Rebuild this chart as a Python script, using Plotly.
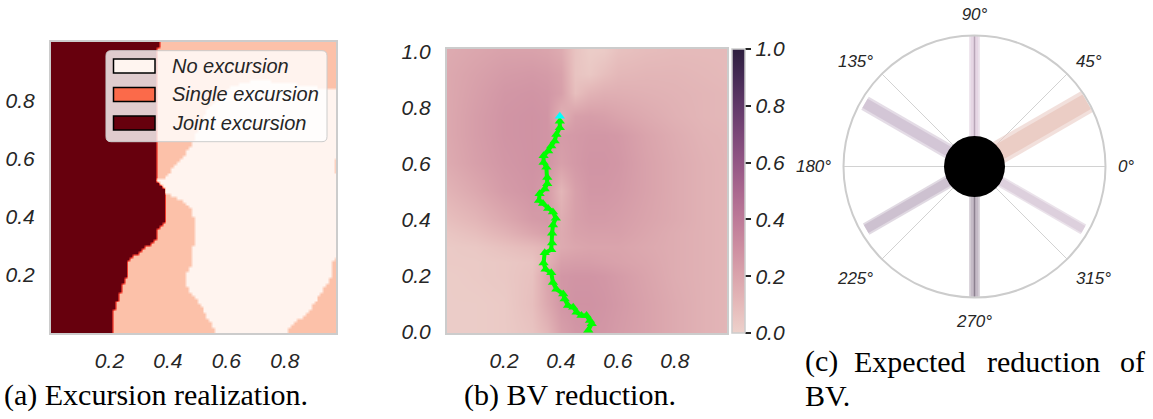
import numpy as np
import plotly.graph_objects as go

W, H = 1153, 419

# ---------------- Panel (a): excursion realization (boundaries) ----------
dark_y = [0.0, 0.05, 0.09, 0.13, 0.17, 0.20, 0.245, 0.27, 0.285, 0.30, 0.32, 0.36, 0.38, 0.50, 0.52, 0.97, 1.0]
dark_x = [0.206, 0.206, 0.217, 0.232, 0.245, 0.257, 0.262, 0.29, 0.31, 0.33, 0.355, 0.365, 0.385, 0.385, 0.362, 0.362, 0.372]

white_x = [0.485, 0.50, 0.53, 0.57, 0.62, 0.70, 0.80, 0.88, 0.94, 1.00, 1.00, 0.965, 0.965, 1.00,
           1.00, 0.955, 0.955, 0.94, 0.915, 0.875, 0.82, 0.80, 0.56, 0.554, 0.526, 0.497, 0.468,
           0.457, 0.474, 0.485, 0.491, 0.48, 0.451, 0.405, 0.36, 0.36, 0.388, 0.416, 0.451]
white_y = [0.655, 0.70, 0.76, 0.81, 0.85, 0.87, 0.86, 0.85, 0.84, 0.84, 0.60, 0.595, 0.55, 0.545,
           0.265, 0.25, 0.19, 0.165, 0.125, 0.07, 0.025, -0.01, -0.01, 0.022, 0.068, 0.113, 0.148,
           0.193, 0.228, 0.297, 0.378, 0.423, 0.457, 0.478, 0.49, 0.53, 0.526, 0.572, 0.606]

legend_labels = ["No excursion", "Single excursion", "Joint excursion"]
legend_colors = ["#fff5f0", "#fb6a4a", "#67000d"]

# ---------------- Panel (b): BV reduction field (grid) -------------------------------------
grid_x = [0.0, 0.1, 0.2, 0.3, 0.35, 0.4, 0.45, 0.5, 0.55, 0.6, 0.7, 0.8, 0.9, 1.0]
grid_y = [0.0, 0.1, 0.2, 0.25, 0.3, 0.35, 0.4, 0.5, 0.6, 0.7, 0.77, 0.85, 0.92, 1.0]
bv_field = [
    [0.02, 0.02, 0.03, 0.06, 0.12, 0.22, 0.26, 0.27, 0.26, 0.24, 0.21, 0.17, 0.14, 0.12],  # 0.0
    [0.02, 0.02, 0.03, 0.08, 0.18, 0.26, 0.28, 0.28, 0.27, 0.25, 0.21, 0.17, 0.14, 0.12],  # 0.1
    [0.02, 0.03, 0.04, 0.07, 0.20, 0.26, 0.27, 0.27, 0.26, 0.24, 0.20, 0.16, 0.14, 0.12],  # 0.2
    [0.03, 0.03, 0.04, 0.06, 0.14, 0.22, 0.23, 0.23, 0.22, 0.21, 0.19, 0.16, 0.14, 0.12],  # 0.25
    [0.03, 0.04, 0.07, 0.10, 0.13, 0.17, 0.19, 0.20, 0.20, 0.20, 0.18, 0.16, 0.14, 0.12],  # 0.3
    [0.05, 0.08, 0.13, 0.19, 0.22, 0.17, 0.21, 0.22, 0.22, 0.22, 0.19, 0.16, 0.14, 0.12],  # 0.35
    [0.08, 0.12, 0.18, 0.24, 0.25, 0.16, 0.22, 0.24, 0.24, 0.23, 0.20, 0.17, 0.14, 0.12],  # 0.4
    [0.13, 0.18, 0.24, 0.27, 0.24, 0.12, 0.22, 0.26, 0.26, 0.25, 0.21, 0.17, 0.14, 0.12],  # 0.5
    [0.17, 0.22, 0.26, 0.28, 0.27, 0.22, 0.25, 0.27, 0.27, 0.26, 0.21, 0.17, 0.14, 0.12],  # 0.6
    [0.18, 0.23, 0.27, 0.28, 0.27, 0.24, 0.25, 0.26, 0.26, 0.25, 0.20, 0.16, 0.13, 0.12],  # 0.7
    [0.18, 0.23, 0.27, 0.28, 0.27, 0.14, 0.22, 0.23, 0.22, 0.20, 0.17, 0.14, 0.12, 0.11],  # 0.77
    [0.18, 0.22, 0.26, 0.27, 0.26, 0.22, 0.08, 0.13, 0.15, 0.15, 0.14, 0.13, 0.12, 0.11],  # 0.85
    [0.18, 0.21, 0.24, 0.25, 0.24, 0.21, 0.06, 0.04, 0.08, 0.11, 0.12, 0.12, 0.11, 0.10],  # 0.92
    [0.17, 0.19, 0.21, 0.21, 0.20, 0.17, 0.06, 0.02, 0.03, 0.07, 0.09, 0.10, 0.10, 0.10],  # 1.0
]

path_x = [0.396, 0.396, 0.384, 0.378, 0.366, 0.355, 0.339, 0.339, 0.349, 0.352, 0.352, 0.343, 0.325,
          0.323, 0.337, 0.355, 0.372, 0.382, 0.372, 0.369, 0.369, 0.366, 0.343, 0.339, 0.346, 0.366,
          0.372, 0.384, 0.408, 0.413, 0.425, 0.443, 0.455, 0.472, 0.49, 0.502, 0.508, 0.496]
path_y = [0.75, 0.727, 0.703, 0.68, 0.662, 0.644, 0.627, 0.603, 0.586, 0.55, 0.527, 0.509, 0.492,
          0.468, 0.457, 0.439, 0.427, 0.404, 0.38, 0.351, 0.316, 0.292, 0.281, 0.245, 0.222, 0.21,
          0.175, 0.151, 0.134, 0.116, 0.093, 0.087, 0.069, 0.057, 0.057, 0.04, 0.028, 0.005]
start_x = [0.396]
start_y = [0.768]

cbar_ticks = [0.0, 0.2, 0.4, 0.6, 0.8, 1.0]

# ---------------- Panel (c): expected reduction per direction --------------------------------
dir_angles = [30, 90, 150, 210, 270, 330]
dir_lengths = [0.99, 1.0, 0.965, 0.955, 0.995, 0.96]
angle_ticks = [0, 45, 90, 135, 180, 225, 270, 315]
angle_labels = ["0°", "45°", "90°", "135°", "180°", "225°", "270°", "315°"]

# styles
bar_style = {
    30: dict(w=24, color="#ebcdc5", core=None),
    90: dict(w=11, color="#e6d6e4", core="#b9a6b8"),
    150: dict(w=15, color="#d3c6d6", core=None),
    210: dict(w=13, color="#cdc1d0", core=None),
    270: dict(w=11, color="#c4bac6", core="#8c8190"),
    330: dict(w=11, color="#ddd0dd", core=None),
}

TXT = "#262626"
tickfont = dict(family="Liberation Sans", size=21, color=TXT)


def it(vals, fmt="{:.1f}"):
    return ["<i>" + fmt.format(v) + "</i>" for v in vals]


fig = go.Figure()

# ---- panel (a) heatmap
ax_x = np.arange(0.005, 0.98, 0.01)
ax_y = np.arange(0.005, 1.0, 0.01)
XX, YY = np.meshgrid(ax_x, ax_y)


def inside_poly(px, py, vx, vy):
    res = np.zeros(px.shape, dtype=bool)
    n = len(vx)
    j = n - 1
    for i in range(n):
        yi, yj, xi, xj = vy[i], vy[j], vx[i], vx[j]
        cond = ((yi > py) != (yj > py)) & (px < (xj - xi) * (py - yi) / ((yj - yi) + 1e-12) + xi)
        res ^= cond
        j = i
    return res


dark_edge = np.interp(YY, dark_y, dark_x)
white_mask = inside_poly(XX, YY, np.array(white_x), np.array(white_y))
zA = np.where(XX < dark_edge, 2, np.where(white_mask, 0, 1))

fig.add_trace(go.Heatmap(
    x=ax_x, y=ax_y, z=zA, zmin=0, zmax=2, zsmooth="best",
    colorscale=[[0, "#fff4ef"], [0.5, "#fcc1a9"], [0.75, "#ef3b2c"], [1, "#67000d"]],
    showscale=False, hoverinfo="skip", xaxis="x", yaxis="y"))

# ---- panel (b) heatmap (seaborn default cubehelix palette)
cube = [[0.0, "#edd1cb"], [0.1, "#e5baba"], [0.2, "#daa4ac"], [0.3, "#cd8ea1"],
        [0.4, "#bd7a98"], [0.5, "#aa678f"], [0.6, "#935685"], [0.7, "#7b4778"],
        [0.8, "#613969"], [0.9, "#462b55"], [1.0, "#2d1e3e"]]
fig.add_trace(go.Heatmap(
    x=grid_x, y=grid_y, z=bv_field, zmin=0, zmax=1, zsmooth="best",
    colorscale=cube, hoverinfo="skip", xaxis="x2", yaxis="y2",
    colorbar=dict(x=732 / W, xanchor="left", xpad=0, y=(H - 333) / H, yanchor="bottom", ypad=0,
                  thickness=13, lenmode="pixels", len=284,
                  outlinecolor="#cccccc", outlinewidth=1.5,
                  ticks="outside", ticklen=6, tickwidth=1.5, tickcolor=TXT,
                  tickvals=cbar_ticks, ticktext=it(cbar_ticks),
                  tickfont=tickfont)))

fig.add_trace(go.Scatter(x=path_x, y=path_y, mode="lines+markers", xaxis="x2", yaxis="y2",
                         line=dict(color="#00ff00", width=4),
                         marker=dict(symbol="triangle-up", size=9, color="#00ff00"),
                         showlegend=False, hoverinfo="skip"))
fig.add_trace(go.Scatter(x=start_x, y=start_y, mode="markers", xaxis="x2", yaxis="y2",
                         marker=dict(symbol="triangle-up", size=9, color="#00ffff"),
                         showlegend=False, hoverinfo="skip"))

# ---- panel (c) polar
for ang, ln in zip(dir_angles, dir_lengths):
    st = bar_style[ang]
    fig.add_trace(go.Scatterpolar(r=[0, ln], theta=[ang, ang], mode="lines", subplot="polar",
                                  line=dict(color=st["color"], width=st["w"]), opacity=0.6,
                                  showlegend=False, hoverinfo="skip"))
    fig.add_trace(go.Scatterpolar(r=[0, ln], theta=[ang, ang], mode="lines", subplot="polar",
                                  line=dict(color=st["color"], width=st["w"] * 0.7),
                                  showlegend=False, hoverinfo="skip"))
    if st["core"]:
        fig.add_trace(go.Scatterpolar(r=[0, ln], theta=[ang, ang], mode="lines", subplot="polar",
                                      line=dict(color=st["core"], width=1.5),
                                      showlegend=False, hoverinfo="skip"))
fig.add_trace(go.Scatterpolar(r=[0], theta=[0], mode="markers", subplot="polar",
                              marker=dict(size=61, color="black"), showlegend=False,
                              hoverinfo="skip"))

axis_common = dict(showgrid=False, zeroline=False, showline=True, mirror=True,
                   linecolor="#cccccc", linewidth=2, ticks="", tickfont=tickfont,
                   automargin=False)
t4 = [0.2, 0.4, 0.6, 0.8]
t6 = [0.0, 0.2, 0.4, 0.6, 0.8, 1.0]

fig.update_layout(
    width=W, height=H, margin=dict(l=0, r=0, t=0, b=0, autoexpand=False),
    paper_bgcolor="white", plot_bgcolor="white", showlegend=False,
    xaxis=dict(domain=[51 / W, 336 / W], range=[0, 0.975], tickvals=t4, ticktext=it(t4),
               ticklabelstandoff=8, **axis_common),
    yaxis=dict(domain=[(H - 333) / H, (H - 42) / H], range=[0, 1], tickvals=t4, ticktext=it(t4),
               ticklabelstandoff=10, **axis_common),
    xaxis2=dict(domain=[447 / W, 727 / W], range=[0, 0.983], tickvals=t4, ticktext=it(t4),
                ticklabelstandoff=8, anchor="y2", **axis_common),
    yaxis2=dict(domain=[(H - 333) / H, (H - 49) / H], range=[-0.005, 1.008],
                tickvals=t6, ticktext=it(t6), ticklabelstandoff=10, anchor="x2",
                **axis_common),
    polar=dict(domain=dict(x=[843.5 / W, 1105.5 / W], y=[(H - 298) / H, (H - 35) / H]),
               bgcolor="white",
               radialaxis=dict(visible=False, range=[0, 1]),
               angularaxis=dict(tickmode="array", tickvals=angle_ticks,
                                ticktext=["<i>" + s + "</i>" for s in angle_labels],
                                showgrid=True, gridcolor="#d2d2d2", gridwidth=1,
                                showline=True, linecolor="#cccccc", linewidth=2,
                                ticks="outside", ticklen=8, tickcolor="rgba(0,0,0,0)",
                                tickfont=dict(family="Liberation Sans", size=17, color=TXT))),
)

# ---- legend of panel (a): rounded translucent box
lx0, lx1, ly0, ly1, rr = 106, 327, 50.7, 141.7, 5


def px2p(x, y):
    return f"{x / W:.5f},{(H - y) / H:.5f}"


box_path = ("M " + px2p(lx0 + rr, ly0) + " L " + px2p(lx1 - rr, ly0) +
            " Q " + px2p(lx1, ly0) + " " + px2p(lx1, ly0 + rr) +
            " L " + px2p(lx1, ly1 - rr) + " Q " + px2p(lx1, ly1) + " " + px2p(lx1 - rr, ly1) +
            " L " + px2p(lx0 + rr, ly1) + " Q " + px2p(lx0, ly1) + " " + px2p(lx0, ly1 - rr) +
            " L " + px2p(lx0, ly0 + rr) + " Q " + px2p(lx0, ly0) + " " + px2p(lx0 + rr, ly0) + " Z")
shapes = [dict(type="path", path=box_path, xref="paper", yref="paper",
               fillcolor="rgba(255,255,255,0.8)", line=dict(color="#cccccc", width=1), layer="above")]
annotations = []
for i, (lab, col) in enumerate(zip(legend_labels, legend_colors)):
    cy = 66 + i * 28.5
    shapes.append(dict(type="rect", xref="paper", yref="paper", x0=113.5 / W, x1=155 / W,
                       y0=(H - cy - 7) / H, y1=(H - cy + 7) / H, fillcolor=col,
                       line=dict(color="black", width=1.5), layer="above"))
    annotations.append(dict(text="<i>" + lab + "</i>", xref="paper", yref="paper", x=170 / W,
                            y=(H - cy) / H, xanchor="left", yanchor="middle", showarrow=False,
                            font=dict(family="Liberation Sans", size=20, color=TXT)))

cap_font = dict(family="Liberation Serif", size=30, color="black")
captions = [("(a) Excursion realization.", 2, 395), ("(b) BV reduction.", 462, 395),
            ("(c)", 803, 361), ("Expected", 852, 361), ("reduction", 985, 361), ("of", 1118, 361),
            ("BV.", 803, 395)]
for txt, px, py in captions:
    annotations.append(dict(text=txt, xref="paper", yref="paper", x=px / W, y=(H - py) / H,
                            xanchor="left", yanchor="middle", showarrow=False, font=cap_font))

fig.update_layout(shapes=shapes, annotations=annotations)
fig.write_html("out.html")
